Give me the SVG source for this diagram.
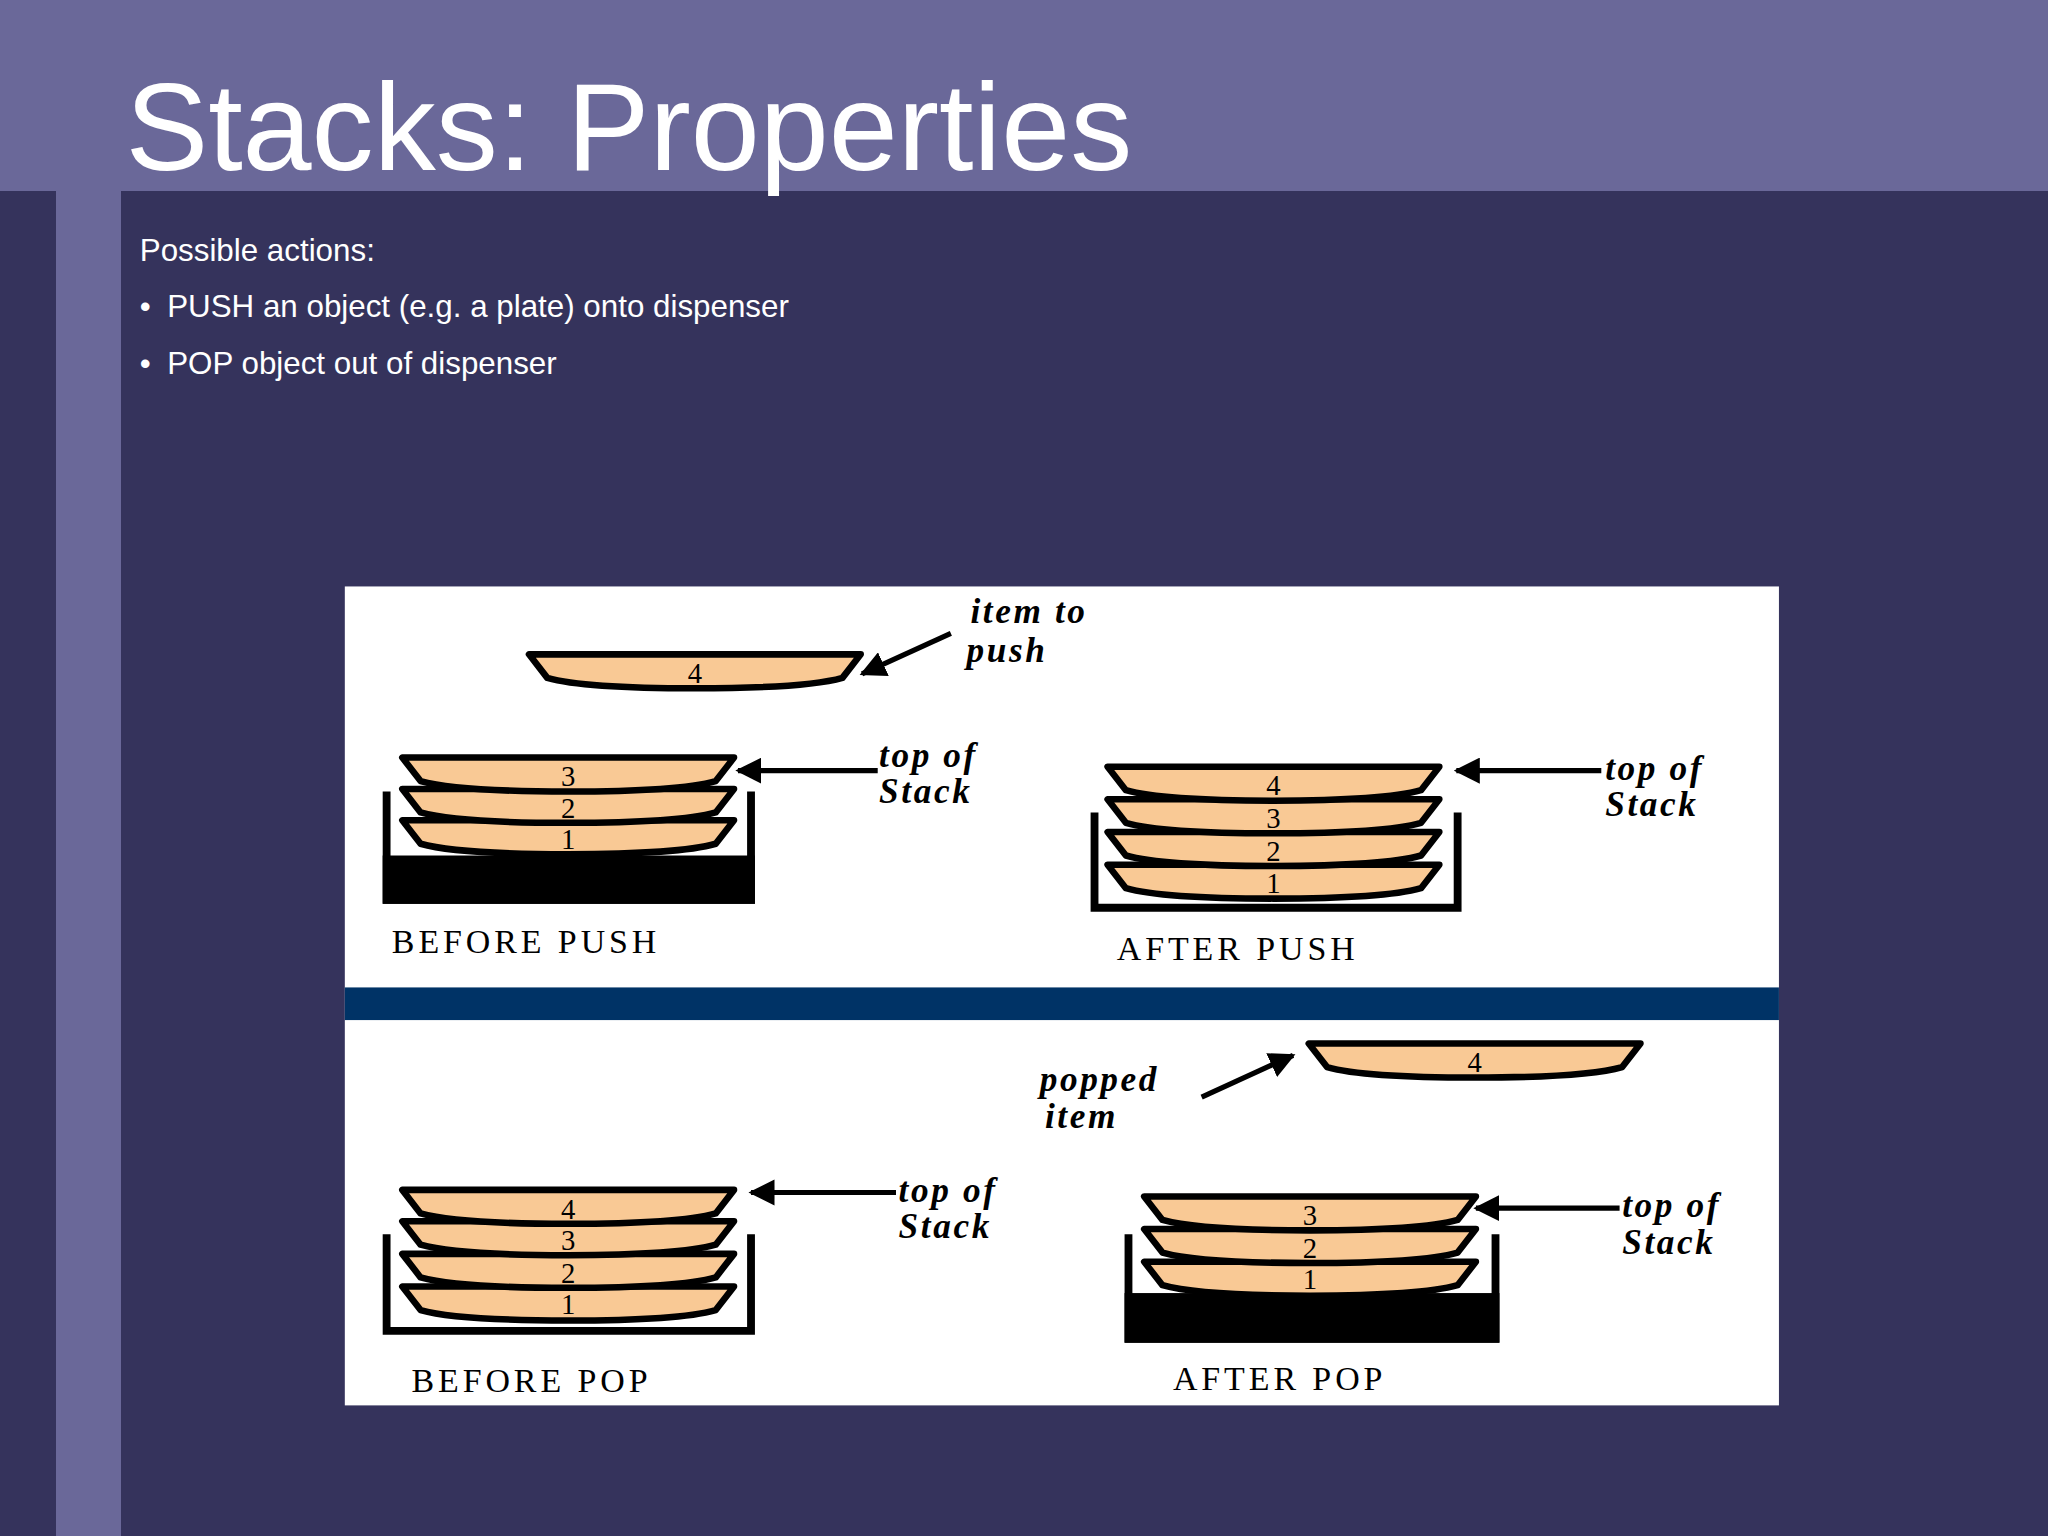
<svg xmlns="http://www.w3.org/2000/svg" width="2048" height="1536" viewBox="0 0 2048 1536">
<defs>
<style>
.lab{font-family:"Liberation Serif",serif;font-style:italic;font-weight:bold;font-size:27px;fill:#000;letter-spacing:2px}
.cap{font-family:"Liberation Serif",serif;font-size:26px;fill:#000;letter-spacing:3px}
.num{font-family:"Liberation Serif",serif;font-size:22px;fill:#000;text-anchor:middle}
.bul{font-family:"Liberation Sans",Arial,sans-serif;font-size:24px;fill:#fff}
.pl{fill:#f9c995;stroke:#000;stroke-width:5;stroke-linejoin:round}
.ar{stroke:#000;stroke-width:4;fill:none;marker-end:url(#ah)}
</style>
<marker id="ah" viewBox="0 0 10 10" refX="9" refY="5" markerWidth="5" markerHeight="5" orient="auto"><path d="M0,0 L10,5 L0,10 Z" fill="#000"/></marker>
<path id="plate" class="pl" d="M0,0 H254 L240,18 Q212,26 127,26 Q42,26 14,18 Z"/>
</defs>
<rect width="2048" height="1536" fill="#35335c"/>
<rect width="2048" height="191" fill="#6a6899"/>
<rect x="56" y="191" width="65" height="1345" fill="#6a6899"/>
<g transform="scale(1.30612)">
<text x="96" y="130" font-family="Liberation Sans,Arial,sans-serif" font-size="95" fill="#fff">Stacks: Properties</text>
<text class="bul" x="107" y="200">Possible actions:</text>
<text class="bul" x="107" y="243">•</text><text class="bul" x="128" y="243">PUSH an object (e.g. a plate) onto dispenser</text>
<text class="bul" x="107" y="286">•</text><text class="bul" x="128" y="286">POP object out of dispenser</text>
<rect x="264" y="449" width="1098" height="627" fill="#fff"/>
<rect x="264" y="756" width="1098" height="25" fill="#003366"/>

<g id="before-push">
<path d="M296,606 V689 H575 V606" fill="none" stroke="#000" stroke-width="6"/>
<rect x="293" y="655" width="285" height="37" fill="#000"/>
<use href="#plate" x="308" y="628"/><text class="num" x="435" y="650">1</text>
<use href="#plate" x="308" y="604"/><text class="num" x="435" y="626">2</text>
<use href="#plate" x="308" y="580"/><text class="num" x="435" y="602">3</text>
<text class="cap" x="300" y="730">BEFORE PUSH</text>
</g>
<g id="item-push">
<use href="#plate" x="405" y="501"/><text class="num" x="532" y="523">4</text>
<text class="lab" x="743" y="477">item to</text><text class="lab" x="740" y="507">push</text>
</g>
<g id="after-push">
<path d="M838,622 V695 H1116 V622" fill="none" stroke="#000" stroke-width="6"/>
<use href="#plate" x="848" y="662"/><text class="num" x="975" y="684">1</text>
<use href="#plate" x="848" y="637"/><text class="num" x="975" y="659">2</text>
<use href="#plate" x="848" y="612"/><text class="num" x="975" y="634">3</text>
<use href="#plate" x="848" y="587"/><text class="num" x="975" y="609">4</text>
<text class="cap" x="855" y="735">AFTER PUSH</text>
</g>
<g id="before-pop">
<path d="M296,945 V1019 H575 V945" fill="none" stroke="#000" stroke-width="6"/>
<use href="#plate" x="308" y="985"/><text class="num" x="435" y="1006">1</text>
<use href="#plate" x="308" y="960"/><text class="num" x="435" y="982">2</text>
<use href="#plate" x="308" y="935"/><text class="num" x="435" y="957">3</text>
<use href="#plate" x="308" y="911"/><text class="num" x="435" y="933">4</text>
<text class="cap" x="315" y="1066">BEFORE POP</text>
</g>
<g id="popped">
<use href="#plate" x="1002" y="799"/><text class="num" x="1129" y="821">4</text>
<text class="lab" x="796" y="835">popped</text><text class="lab" x="800" y="864">item</text>
</g>
<g id="after-pop">
<path d="M864,945 V1025 H1145 V945" fill="none" stroke="#000" stroke-width="6"/>
<rect x="861" y="990" width="287" height="38" fill="#000"/>
<use href="#plate" x="876" y="966"/><text class="num" x="1003" y="987">1</text>
<use href="#plate" x="876" y="941"/><text class="num" x="1003" y="963">2</text>
<use href="#plate" x="876" y="916"/><text class="num" x="1003" y="938">3</text>
<text class="cap" x="898" y="1064">AFTER POP</text>
</g>
<g id="tops">
<text class="lab" x="673" y="587">top of</text><text class="lab" x="673" y="615">Stack</text>
<text class="lab" x="1229" y="597">top of</text><text class="lab" x="1229" y="625">Stack</text>
<text class="lab" x="688" y="920">top of</text><text class="lab" x="688" y="948">Stack</text>
<text class="lab" x="1242" y="932">top of</text><text class="lab" x="1242" y="960">Stack</text>
</g>
<g id="connectors">
<line class="ar" x1="728" y1="485" x2="660" y2="516"/>
<line class="ar" x1="672" y1="590" x2="565" y2="590"/>
<line class="ar" x1="1226" y1="590" x2="1115" y2="590"/>
<line class="ar" x1="920" y1="840" x2="990" y2="808"/>
<line class="ar" x1="686" y1="913" x2="575" y2="913"/>
<line class="ar" x1="1240" y1="925" x2="1130" y2="925"/>
</g>
</g>
</svg>
